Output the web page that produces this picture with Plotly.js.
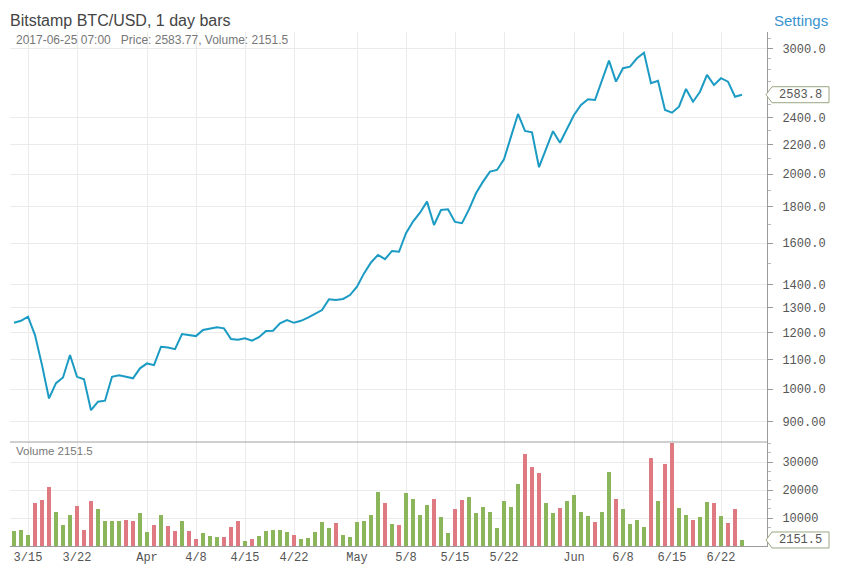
<!DOCTYPE html>
<html><head><meta charset="utf-8">
<script src="https://cdn.plot.ly/plotly-3.0.1.min.js"></script>
<style>body{margin:0;background:#fff}#chart{width:845px;height:571px}</style>
</head><body><div id="chart"></div>
<script>
// ---- data ----
const startDate = '2017-03-13';
const closePrices = [
  1238,1246,1263,1190,1080,970,1019,1038,1116,1040,
  1032,934,960,963,1040,1045,1040,1035,1069,1086,
  1080,1146,1143,1137,1194,1190,1186,1210,1214,1220,
  1216,1175,1172,1178,1169,1182,1206,1207,1236,1249,
  1238,1246,1259,1274,1290,1336,1333,1337,1354,1391,
  1452,1504,1541,1520,1561,1557,1653,1716,1766,1830,
  1697,1781,1785,1714,1707,1785,1880,1952,2016,2027,
  2098,2257,2428,2299,2289,2045,2174,2297,2213,2319,
  2420,2500,2546,2540,2716,2884,2695,2814,2828,2906,
  2959,2681,2703,2460,2438,2486,2632,2526,2609,2754,
  2666,2725,2695,2567,2583.77
];
const volumes = [
  5536,5893,4107,15286,16607,21250,12321,7679,11250,14464,
  5893,16250,13393,9107,8869,9107,9464,8869,11964,5179,
  7679,11250,7321,5536,9107,5536,2679,4821,3750,3393,
  3393,6964,9107,1964,2679,3750,5536,5893,5893,5179,
  4107,2679,3036,5179,8750,6607,8393,4107,3393,8750,
  9107,11250,19464,15536,8036,7679,19107,16964,11250,14821,
  16964,10536,4821,13393,16607,17679,11964,14107,12321,6607,
  16250,14107,22321,33036,28393,26250,15536,11964,13750,16250,
  18393,12321,10893,8750,12321,26607,16964,13393,8036,9464,
  6964,31607,16250,29464,36857,13750,11250,9464,10536,15893,
  15536,10893,8393,13393,2151.5
];
const tickDates = ['2017-03-15','2017-03-22','2017-04-01','2017-04-08','2017-04-15','2017-04-22','2017-05-01','2017-05-08','2017-05-15','2017-05-22','2017-06-01','2017-06-08','2017-06-15','2017-06-22'];
const tickLabels = ['3/15','3/22','Apr','4/8','4/15','4/22','May','5/8','5/15','5/22','Jun','6/8','6/15','6/22'];
const priceTicks = [900,1000,1100,1200,1300,1400,1600,1800,2000,2200,2400,3000];
const priceTickLabels = ['900.00','1000.0','1100.0','1200.0','1300.0','1400.0','1600.0','1800.0','2000.0','2200.0','2400.0','3000.0'];
const priceMinorTicks = [1500,1700,1900,2100,2300,2500,2600,2700,2800,2900,3100];
const volumeTicks = [10000,20000,30000];
const volumeTickLabels = ['10000','20000','30000'];
const volumeMinorTicks = [3333,6667,13333,16667,23333,26667,33333,36667];
const titleText = 'Bitstamp BTC/USD, 1 day bars';
const infoText = '2017-06-25 07:00   Price: 2583.77, Volume: 2151.5';
const volumeLabel = 'Volume 2151.5';
const lastPriceLabel = '2583.8';
const lastVolumeLabel = '2151.5';

// ---- derived ----
const dates = closePrices.map((_, i) => {
  const d = new Date(startDate + 'T00:00:00Z');
  d.setUTCDate(d.getUTCDate() + i);
  return d.toISOString().slice(0, 10);
});
const GREEN = '#8bb65b', RED = '#e07a82';
const barColors = closePrices.map((p, i) => (i === 0 || p >= closePrices[i - 1]) ? GREEN : RED);

const W = 845, H = 571;
const M = {l: 10, r: 78, t: 32, b: 25};
const plotW = W - M.l - M.r, plotH = H - M.t - M.b;
const volDomTop = (546 - 442) / plotH;
const priceRange = [2.92575, 3.5001];
const volRange = [0, 37143];

const AX = '#9a9a9a', GRID = '#ebebeb', TXT = '#555';
const mono = {family: 'Liberation Mono, DejaVu Sans Mono, monospace', size: 12, color: TXT};

const priceTrace = {
  x: dates, y: closePrices, type: 'scatter', mode: 'lines',
  line: {color: '#1b9bc3', width: 2}, xaxis: 'x', yaxis: 'y', hoverinfo: 'skip'
};
const volTrace = {
  x: dates, y: volumes, type: 'bar', marker: {color: barColors, line: {width: 0}},
  width: 0.7 * 86400000, xaxis: 'x', yaxis: 'y2', hoverinfo: 'skip'
};

function priceToPaper(p) {
  return volDomTop + (Math.log10(p) - priceRange[0]) / (priceRange[1] - priceRange[0]) * (1 - volDomTop);
}
function volToPaper(v) {
  return (v - volRange[0]) / (volRange[1] - volRange[0]) * volDomTop;
}
function tagPath(yPaper) {
  const px = x => (x - M.l) / plotW;
  const dy = 8 / plotH;
  return `M ${px(766)} ${yPaper} L ${px(772)} ${yPaper + dy} L ${px(829)} ${yPaper + dy} L ${px(829)} ${yPaper - dy} L ${px(772)} ${yPaper - dy} Z`;
}
const lastP = closePrices[closePrices.length - 1];
const lastV = volumes[volumes.length - 1];
const tagX = (800 - M.l) / plotW;

const layout = {
  width: W, height: H, margin: M, paper_bgcolor: '#fff', plot_bgcolor: '#fff',
  showlegend: false, bargap: 0,
  font: {family: 'Liberation Sans, Arial, sans-serif', color: TXT},
  title: {text: titleText, xref: 'container', yref: 'container', x: 10 / W, xanchor: 'left',
          y: 1 - 20 / H, yanchor: 'middle', font: {size: 16, color: '#444', family: 'Liberation Sans, Arial, sans-serif'}},
  xaxis: {
    type: 'date', range: ['2017-03-12 10:17', '2017-06-28 13:43'], anchor: 'y2',
    tickmode: 'array', tickvals: tickDates, ticktext: tickLabels, tickfont: mono,
    showgrid: true, gridcolor: GRID, showline: true, linecolor: AX, ticks: '', zeroline: false,
    ticklabelstandoff: 0
  },
  yaxis: {
    type: 'log', range: priceRange, domain: [volDomTop, 1], side: 'right', anchor: 'x',
    tickmode: 'array', tickvals: priceTicks, ticktext: priceTickLabels, tickfont: mono,
    showgrid: true, gridcolor: GRID, showline: true, linecolor: AX, ticks: 'outside', ticklen: 5,
    tickcolor: AX, zeroline: false, ticklabelstandoff: 7,
    minor: {tickmode: 'array', tickvals: priceMinorTicks, ticks: 'outside', ticklen: 3, tickcolor: '#bbb', showgrid: false}
  },
  yaxis2: {
    type: 'linear', range: volRange, domain: [0, volDomTop], side: 'right', anchor: 'x',
    tickmode: 'array', tickvals: volumeTicks, ticktext: volumeTickLabels, tickfont: mono,
    showgrid: true, gridcolor: GRID, showline: true, linecolor: AX, ticks: 'outside', ticklen: 5,
    tickcolor: AX, zeroline: false, ticklabelstandoff: 7,
    minor: {tickmode: 'array', tickvals: volumeMinorTicks, ticks: 'outside', ticklen: 3, tickcolor: '#bbb', showgrid: false}
  },
  shapes: [
    {type: 'line', xref: 'paper', yref: 'paper', x0: 0, x1: 1, y0: volDomTop, y1: volDomTop, line: {color: '#a0a0a0', width: 1}},
    {type: 'path', xref: 'paper', yref: 'paper', path: tagPath(priceToPaper(lastP)), fillcolor: '#fff', line: {color: '#9aa680', width: 1}},
    {type: 'path', xref: 'paper', yref: 'paper', path: tagPath(volToPaper(lastV)), fillcolor: '#fff', line: {color: '#9aa680', width: 1}}
  ],
  annotations: [
    {text: infoText, xref: 'paper', yref: 'paper', x: (14 - M.l) / plotW, xanchor: 'left',
     y: 1 - 8 / plotH, yanchor: 'middle', showarrow: false,
     font: {size: 12, color: '#777'}},
    {text: 'Settings', xref: 'paper', yref: 'paper', x: (830 - M.l) / plotW, xanchor: 'right',
     y: 1 + 12 / plotH, yanchor: 'middle', showarrow: false,
     font: {size: 15, color: '#3a93cf'}},
    {text: volumeLabel, xref: 'paper', yref: 'paper', x: (14 - M.l) / plotW, xanchor: 'left',
     y: volDomTop - 9 / plotH, yanchor: 'middle', showarrow: false,
     font: {size: 11.5, color: '#777'}},
    {text: lastPriceLabel, xref: 'paper', yref: 'paper', x: tagX, xanchor: 'center',
     y: priceToPaper(lastP), yanchor: 'middle', showarrow: false, font: mono},
    {text: lastVolumeLabel, xref: 'paper', yref: 'paper', x: tagX, xanchor: 'center',
     y: volToPaper(lastV), yanchor: 'middle', showarrow: false, font: mono}
  ]
};
Plotly.newPlot('chart', [volTrace, priceTrace], layout, {displayModeBar: false, staticPlot: true});
</script></body></html>
